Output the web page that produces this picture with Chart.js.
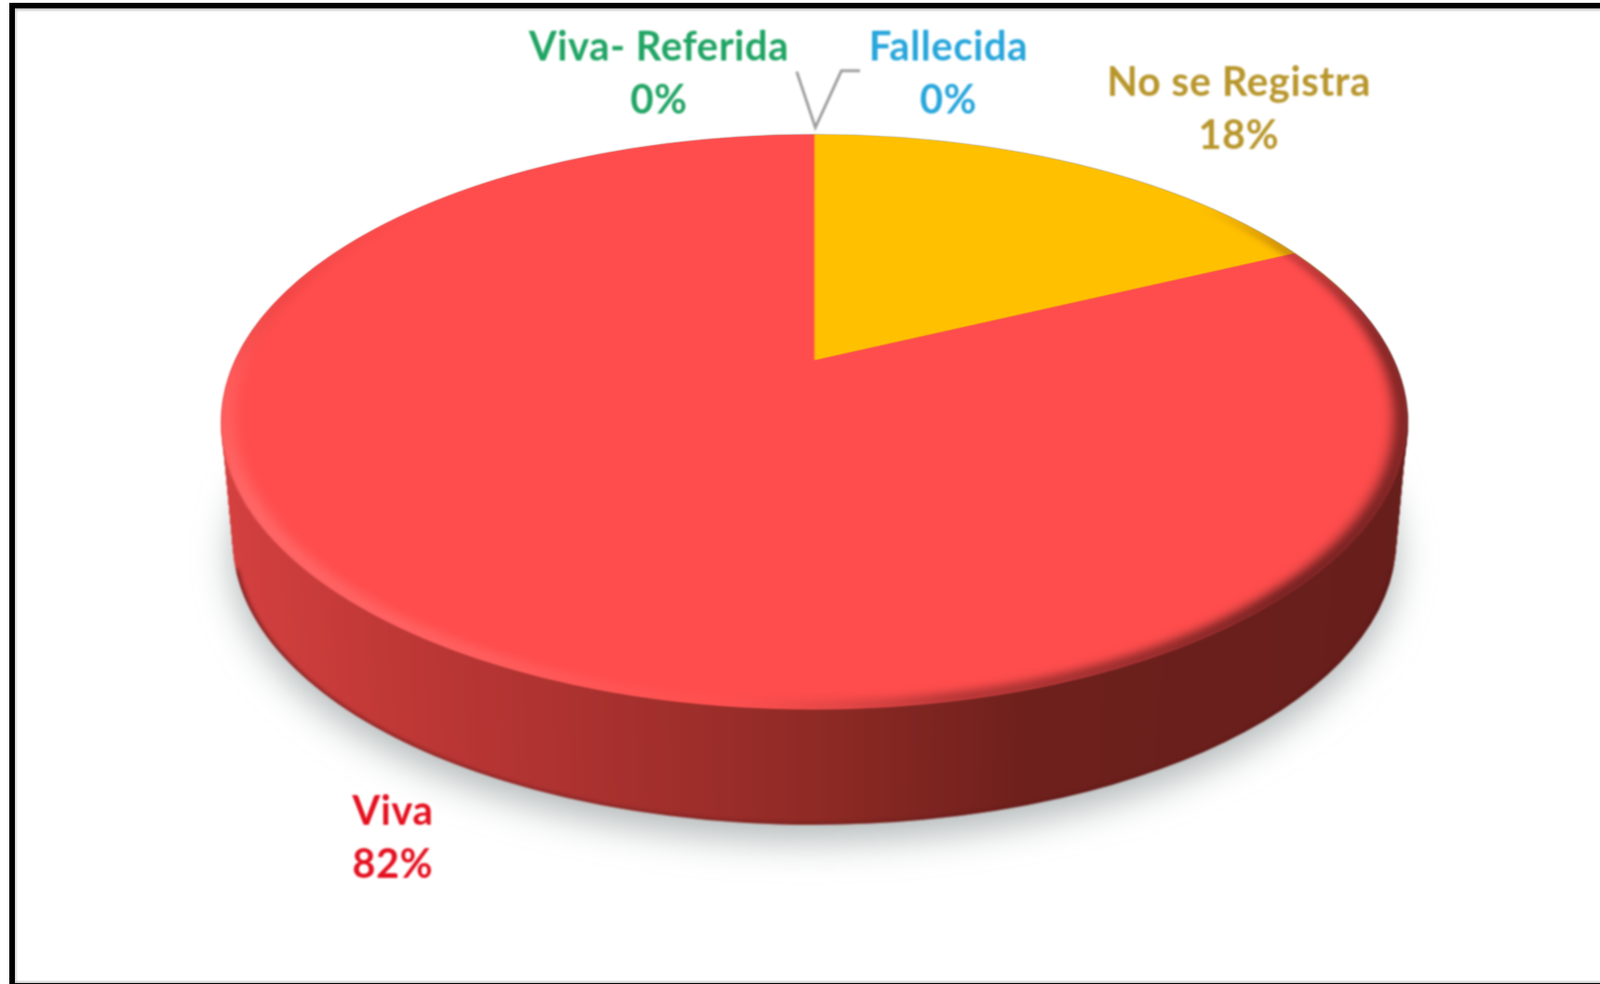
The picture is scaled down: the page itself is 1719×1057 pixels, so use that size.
<!DOCTYPE html>
<html>
<head>
<meta charset="utf-8">
<title>Viva / No se Registra</title>
<script src="https://cdn.jsdelivr.net/npm/chart.js@4"></script>
<style>
    html, body { margin: 0; width: 1719px; height: 1057px; overflow: hidden; background: #fff; }
    #frame {
        position: absolute; left: 10px; top: 3px; width: 1800px; height: 1059px;
        box-sizing: border-box; border: 6px solid #000;
        box-shadow: inset 2px 3px 3px -1px #bdbdbd, inset 0 -3px 2px -1px #cfcfcf;
    }
    canvas { position: absolute; filter: blur(0.8px); }
</style>
</head>
<body>
<div id="frame"></div>
<canvas id="wallChart" width="1719" height="1057" style="left:0;top:0"></canvas>
<canvas id="faceChart" width="1360" height="1360"></canvas>
<script>
// Slices, clockwise from 12 o'clock
const categories = ['No se Registra', 'Viva', 'Viva- Referida', 'Fallecida'];
const percents = [18, 82, 0, 0];
const sliceColors = ['#FFC000', '#FF4D4D', '#00B050', '#00B0F0'];

// Labels: colour, centre x, first baseline
const labelColors = ['#B8962C', '#E5101F', '#1FA463', '#27A6DB'];
const labelX = [1331, 422, 708, 1019];
const labelY = [103, 886, 65, 65];
const lineGap = 57;

// Projection of the top face on screen
const apexX = 875, apexY = 387;
const scaleX = 622, scaleY = 294.4, tilt = 0.215;

// Top and bottom outline of the disc wall
const topRim = { cy: 453.4, rx: 637, ry: 308.6 };
const bottomRim = { cy: 581, rx: 625, ry: 305 };
const wallSteps = 64;

function wallGradient(ctx, area) {
    const g = ctx.createLinearGradient(area.left, 0, area.right, 0);
    g.addColorStop(0, '#E84545');
    g.addColorStop(0.05, '#D84242');
    g.addColorStop(0.2, '#BE3836');
    g.addColorStop(0.32, '#AC3230');
    g.addColorStop(0.49, '#8F2A25');
    g.addColorStop(0.64, '#6E201C');
    g.addColorStop(1, '#651F1C');
    return g;
}

const wallPlugin = {
    id: 'wall',
    beforeDatasetsDraw(chart) {
        const ctx = chart.ctx;
        const arcs = chart.getDatasetMeta(0).data;
        const first = arcs[0];
        const R = first.outerRadius;

        function place(rim) {
            ctx.translate(apexX, rim.cy);
            ctx.scale(rim.rx / R, rim.ry / R);
            ctx.translate(-first.x, -first.y);
        }

        // stacked copies of the slices, bottom to top
        for (let i = wallSteps; i >= 0; i--) {
            const t = i / wallSteps;
            ctx.save();
            if (i === wallSteps) {
                ctx.shadowColor = 'rgba(125,135,135,0.6)';
                ctx.shadowBlur = 40;
                ctx.shadowOffsetY = 16;
            }
            place({
                cy: topRim.cy + (bottomRim.cy - topRim.cy) * t,
                rx: topRim.rx + (bottomRim.rx - topRim.rx) * t,
                ry: topRim.ry + (bottomRim.ry - topRim.ry) * t
            });
            arcs.forEach(a => a.draw(ctx));
            ctx.restore();
        }

        // dark line along the bottom edge
        ctx.save();
        place(bottomRim);
        ctx.beginPath();
        ctx.arc(first.x, first.y, R, 0, Math.PI * 2);
        ctx.clip();
        ctx.filter = 'blur(2px)';
        ctx.strokeStyle = 'rgba(90,20,20,0.75)';
        ctx.lineWidth = 5;
        ctx.beginPath();
        ctx.arc(first.x, first.y, R, 0.1, Math.PI - 0.1);
        ctx.stroke();
        ctx.restore();
        return false;
    },
    afterDraw(chart) {
        const ctx = chart.ctx;
        ctx.save();

        // leader lines of the two empty slices
        ctx.strokeStyle = '#9C9C9C';
        ctx.lineWidth = 3;
        ctx.beginPath();
        ctx.moveTo(856, 77);
        ctx.lineTo(876, 137);
        ctx.lineTo(904, 76);
        ctx.lineTo(924, 76);
        ctx.stroke();

        ctx.font = 'bold 43px Lato, "Open Sans", sans-serif';
        ctx.letterSpacing = '0.6px';
        ctx.textAlign = 'center';
        ctx.textBaseline = 'alphabetic';
        categories.forEach((name, i) => {
            ctx.fillStyle = labelColors[i];
            ctx.fillText(name, labelX[i], labelY[i]);
            ctx.fillText(percents[i] + '%', labelX[i], labelY[i] + lineGap);
        });
        ctx.restore();
    }
};

const facePlugin = {
    id: 'face',
    afterDatasetsDraw(chart) {
        const ctx = chart.ctx;
        const a = chart.getDatasetMeta(0).data[0];
        const g = ctx.createConicGradient(-Math.PI / 2, a.x, a.y);
        g.addColorStop(0, 'rgba(90,25,25,0)');
        g.addColorStop(0.14, 'rgba(90,25,25,0)');
        g.addColorStop(0.24, 'rgba(90,25,25,0.85)');
        g.addColorStop(0.38, 'rgba(90,25,25,0.95)');
        g.addColorStop(0.47, 'rgba(120,35,35,0.6)');
        g.addColorStop(0.52, 'rgba(255,85,85,0.35)');
        g.addColorStop(0.58, 'rgba(255,105,105,0.75)');
        g.addColorStop(0.67, 'rgba(255,110,110,0.9)');
        g.addColorStop(0.74, 'rgba(255,105,105,0.55)');
        g.addColorStop(0.79, 'rgba(205,55,55,0.3)');
        g.addColorStop(0.86, 'rgba(205,55,55,0)');
        g.addColorStop(1, 'rgba(90,25,25,0)');

        // bevel along the rim, kept inside the disc
        ctx.save();
        ctx.beginPath();
        ctx.arc(a.x, a.y, a.outerRadius + 1, 0, Math.PI * 2);
        ctx.clip();
        ctx.filter = 'blur(7px)';
        ctx.strokeStyle = g;
        ctx.lineWidth = 18;
        ctx.beginPath();
        ctx.arc(a.x, a.y, a.outerRadius - 4, 0, Math.PI * 2);
        ctx.stroke();
        ctx.restore();
    }
};

const baseOptions = {
    responsive: false,
    animation: false,
    events: [],
    plugins: { legend: { display: false }, tooltip: { enabled: false } }
};

// Wall, shadow, labels
const wallCtx = document.getElementById('wallChart').getContext('2d');
const wallFill = wallGradient(wallCtx, { left: 875 - 640, right: 875 + 640 });
new Chart(wallCtx, {
    type: 'pie',
    data: {
        labels: categories,
        datasets: [{ data: percents, backgroundColor: ['#8F6C00', wallFill, '#8F2A25', '#8F2A25'], borderWidth: 0, hoverOffset: 0 }]
    },
    options: baseOptions,
    plugins: [wallPlugin]
});

// Top face, tilted with a CSS projection
const faceCanvas = document.getElementById('faceChart');
const faceChart = new Chart(faceCanvas, {
    type: 'pie',
    data: {
        labels: categories,
        datasets: [{ data: percents, backgroundColor: sliceColors, borderWidth: 0, hoverOffset: 0 }]
    },
    options: { ...baseOptions, layout: { padding: 40 } },
    plugins: [facePlugin]
});

const faceArc = faceChart.getDatasetMeta(0).data[0];
const R = faceArc.outerRadius;
faceCanvas.style.left = (apexX - faceArc.x) + 'px';
faceCanvas.style.top = (apexY - faceArc.y) + 'px';
faceCanvas.style.transformOrigin = faceArc.x + 'px ' + faceArc.y + 'px';
faceCanvas.style.transform = 'matrix3d(' + [
    scaleX / R, 0, 0, 0,
    0, scaleY / R, 0, -tilt / R,
    0, 0, 1, 0,
    0, 0, 0, 1
].join(',') + ')';
</script>
</body>
</html>
